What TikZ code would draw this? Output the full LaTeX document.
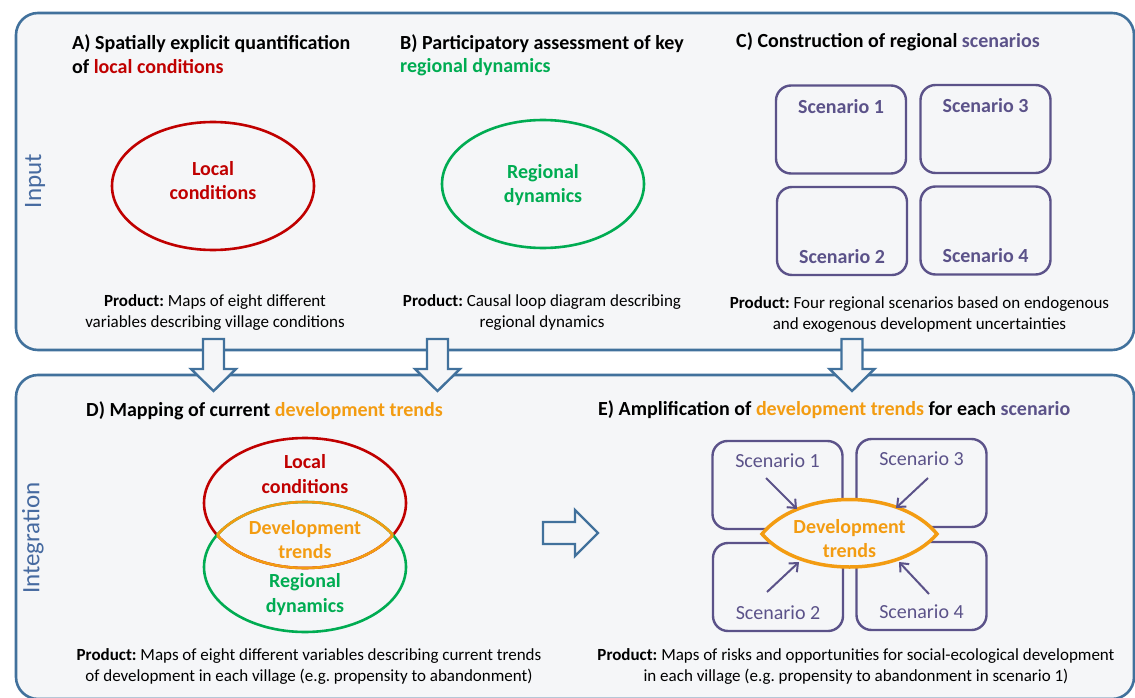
\documentclass[tikz,border=0pt]{standalone}
\usepackage{fontspec}
\setmainfont{Carlito}
\usepackage{xcolor}
\usetikzlibrary{shapes.geometric,arrows.meta,positioning,calc}
\frenchspacing

\definecolor{panelblue}{RGB}{65,113,156}
\definecolor{panelfill}{RGB}{245,246,248}
\definecolor{sideblue}{RGB}{70,106,160}
\definecolor{locred}{RGB}{192,0,0}
\definecolor{reggreen}{RGB}{0,172,82}
\definecolor{devorange}{RGB}{243,156,18}
\definecolor{scenpurple}{RGB}{91,82,137}

% fat outlined arrow pointing down, centred at x = #1
\newcommand{\blockdown}[1]{%
  \draw[blockarrow] ({#1-10.5},339) -- ({#1+10.5},339) -- ({#1+10.5},369)
    -- ({#1+22.5},369) -- (#1,391) -- ({#1-22.5},369) -- ({#1-10.5},369) -- cycle;}

\begin{document}
\begin{tikzpicture}[x=1pt,y=-1pt,
  panel/.style={draw=panelblue, line width=2.6pt, fill=panelfill, rounded corners=22pt},
  blockarrow/.style={draw=panelblue, line width=2.4pt, fill=panelfill, line join=miter},
  ttl/.style={anchor=base west, inner sep=0pt, font=\fontsize{20}{24}\selectfont\bfseries},
  prod/.style={anchor=base, inner sep=0pt, font=\fontsize{17}{21}\selectfont},
  side/.style={rotate=90, text=sideblue, font=\fontsize{25}{30}\selectfont},
  oval/.style={ellipse, line width=2.6pt, minimum width=202pt, minimum height=128pt, inner sep=0pt},
  ovaltxt/.style={align=center, font=\fontsize{20}{24.5}\selectfont\bfseries},
  scenbox/.style={draw=scenpurple, line width=2.4pt, rounded corners=15pt,
    minimum width=130pt, minimum height=88pt, inner sep=0pt},
  scentxt/.style={text=scenpurple, font=\fontsize{20}{24}\selectfont},
  feed/.style={draw=scenpurple, line width=2pt, -{Straight Barb[length=7pt,width=12pt]}}]

\fill[white] (0,0) rectangle (1135,698);
\useasboundingbox (0,0) rectangle (1135,698);

% the two bands
\draw[panel] (16,13) rectangle (1134,350);
\draw[panel] (16,375) rectangle (1134,699);
\node[side] (input) at (35,181) {Input};
\node[side] (integ) at (33,538) {Integration};

% arrows between the bands
\blockdown{213.5}
\blockdown{437.5}
\blockdown{852}
\draw[blockarrow] (543,522) -- (575,522) -- (575,510) -- (598,533) -- (575,556)
  -- (575,544) -- (543,544) -- cycle;

% A) local conditions
\node[ttl] (ta1) at (72,50) {A) Spatially explicit quantification};
\node[ttl] (ta2) at (72,74) {of \textcolor{locred}{local conditions}};
\node[oval, draw=locred] (la) at (213,186) {};
\node[ovaltxt, text=locred] (lat) at (213,180.5) {Local\\conditions};
\node[prod] (pa1) at (215,306) {\textbf{Product:} Maps of eight different};
\node[prod] (pa2) at (215,327) {variables describing village conditions};

% B) regional dynamics
\node[ttl] (tb1) at (400,50) {B) Participatory assessment of key};
\node[ttl] (tb2) at (400,73) {\textcolor{reggreen}{regional dynamics}};
\node[oval, draw=reggreen] (rb) at (543,184) {};
\node[ovaltxt, text=reggreen] (rbt) at (543,185) {Regional\\dynamics};
\node[prod] (pb1) at (542,306) {\textbf{Product:} Causal loop diagram describing};
\node[prod] (pb2) at (542,327) {regional dynamics};

% C) scenarios
\node[ttl] (tc) at (736,48) {C) Construction of regional \textcolor{scenpurple}{scenarios}};
\node[scenbox] (c1) at (841,129.5) {};
\node[scenbox] (c3) at (985.5,129) {};
\node[scenbox] (c2) at (842,231) {};
\node[scenbox] (c4) at (985.5,230.5) {};
\node[scentxt, font=\fontsize{20}{24}\selectfont\bfseries] (c1t) at ([yshift=-22pt]c1.north) {Scenario 1};
\node[scentxt, font=\fontsize{20}{24}\selectfont\bfseries] (c3t) at ([yshift=-22pt]c3.north) {Scenario 3};
\node[scentxt, font=\fontsize{20}{24}\selectfont\bfseries] (c2t) at ([yshift=20pt]c2.south) {Scenario 2};
\node[scentxt, font=\fontsize{20}{24}\selectfont\bfseries] (c4t) at ([yshift=20pt]c4.south) {Scenario 4};
\node[prod] (pc1) at (919.5,308) {\textbf{Product:} Four regional scenarios based on endogenous};
\node[prod] (pc2) at (919.5,329) {and exogenous development uncertainties};

% D) current trends
\node[ttl] (td) at (86,416) {D) Mapping of current \textcolor{devorange}{development trends}};
\node[oval, draw=locred, minimum height=130pt] (dl) at (305,503) {};
\node[oval, draw=reggreen, minimum height=130pt] (dr) at (305,567) {};
\begin{scope}
  \clip (305,503) ellipse [x radius=101, y radius=65];
  \draw[devorange, line width=2.6pt] (305,567) ellipse [x radius=101, y radius=65];
\end{scope}
\begin{scope}
  \clip (305,567) ellipse [x radius=101, y radius=65];
  \draw[devorange, line width=2.6pt] (305,503) ellipse [x radius=101, y radius=65];
\end{scope}
\node[ovaltxt, text=locred] (dlt) at (305,474) {Local\\conditions};
\node[ovaltxt, text=devorange] (ddt) at (305,539.5) {Development\\trends};
\node[ovaltxt, text=reggreen] (drt) at (305,594.5) {Regional\\dynamics};
\node[prod] (pd1) at (309,660) {\textbf{Product:} Maps of eight different variables describing current trends};
\node[prod] (pd2) at (309,681) {of development in each village (e.g. propensity to abandonment)};

% E) trends per scenario
\node[ttl] (te) at (598,415) {E) Amplification of \textcolor{devorange}{development trends} for each \textcolor{scenpurple}{scenario}};
\node[scenbox] (e1) at (777.5,485) {};
\node[scenbox] (e3) at (921.5,483) {};
\node[scenbox] (e2) at (778,587) {};
\node[scenbox] (e4) at (921.5,586) {};
\node[scentxt] (e1t) at ([yshift=-21pt]e1.north) {Scenario 1};
\node[scentxt] (e3t) at ([yshift=-21pt]e3.north) {Scenario 3};
\node[scentxt] (e2t) at ([yshift=20pt]e2.south) {Scenario 2};
\node[scentxt] (e4t) at ([yshift=20pt]e4.south) {Scenario 4};
\draw[devorange, line width=3.5pt, fill=panelfill] (762,534) .. controls (800,488) and (899,488) .. (937,534)
  .. controls (899,578) and (800,578) .. (762,534) -- cycle;
\node[ovaltxt, text=devorange] (det) at (849.5,538.5) {Development\\trends};
\coordinate (s1) at (766,478);
\coordinate (s3) at (928,478);
\coordinate (s2) at (767,592);
\coordinate (s4) at (929,594);
\coordinate (d1) at (797,509);
\coordinate (d3) at (896,508);
\coordinate (d2) at (799,562);
\coordinate (d4) at (899,562);
\draw[feed] (s1) -- (d1);
\draw[feed] (s3) -- (d3);
\draw[feed] (s2) -- (d2);
\draw[feed] (s4) -- (d4);
\node[prod] (pe1) at (856,660) {\textbf{Product:} Maps of risks and opportunities for social-ecological development};
\node[prod] (pe2) at (856,681) {in each village (e.g. propensity to abandonment in scenario 1)};
\end{tikzpicture}
\end{document}
